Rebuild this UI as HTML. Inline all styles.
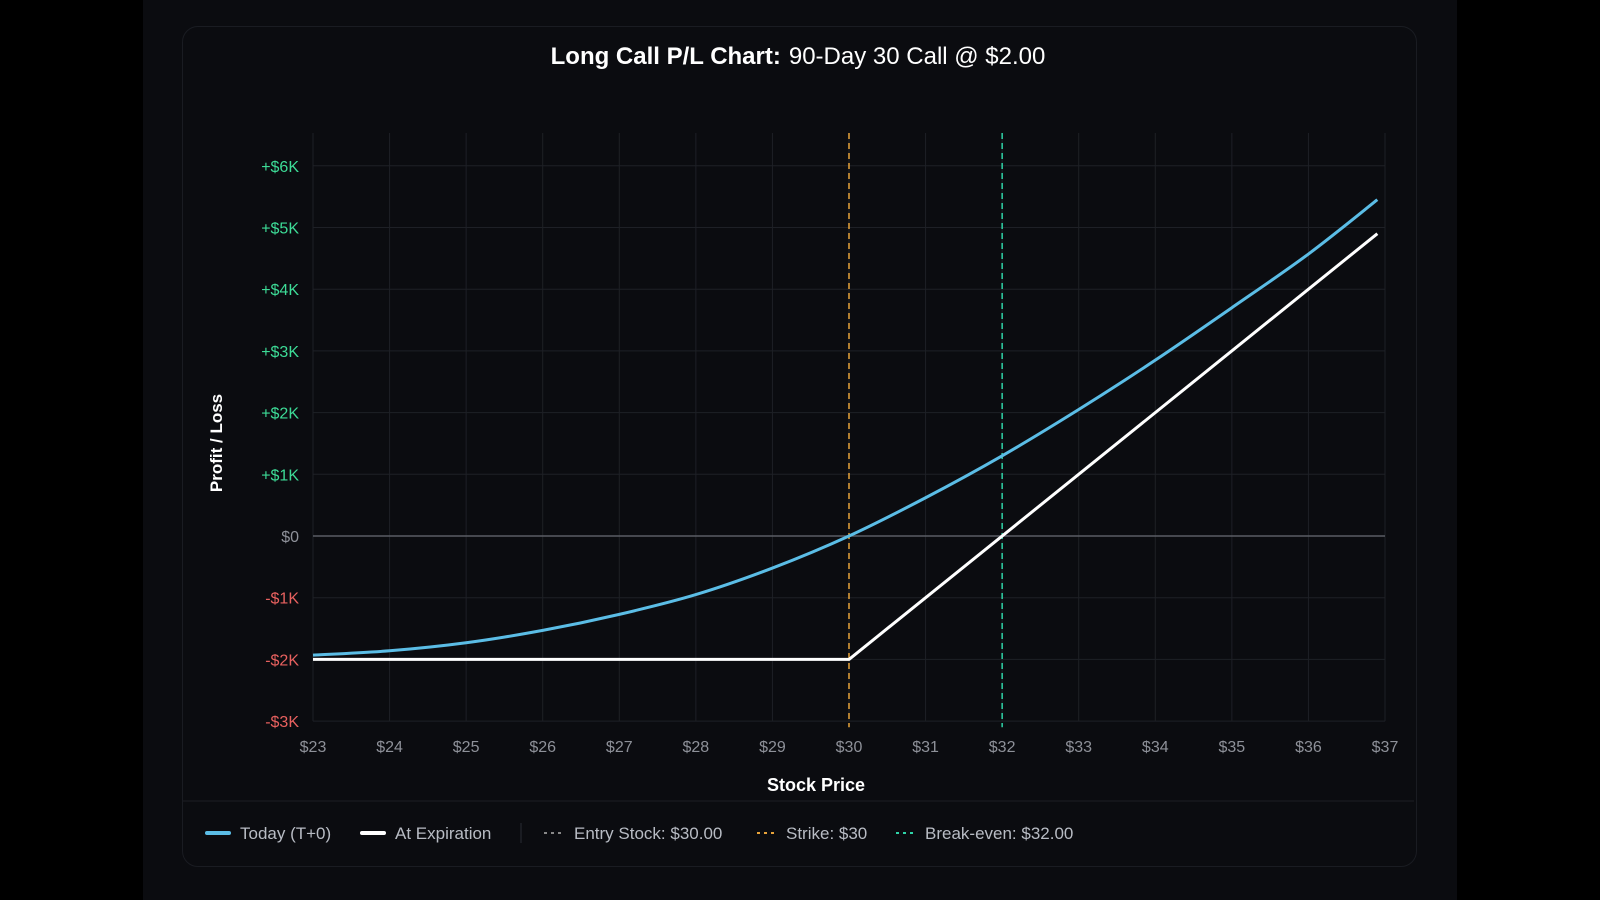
<!DOCTYPE html>
<html><head><meta charset="utf-8"><style>
html,body{margin:0;padding:0;background:#000;width:1600px;height:900px;overflow:hidden;font-family:"Liberation Sans",sans-serif}
#outer{position:absolute;left:143px;top:0;width:1314px;height:900px;background:#0b0c10}
#card{position:absolute;left:182px;top:26px;width:1233px;height:839px;border:1px solid #1a1c22;border-radius:16px;background:#0b0c10}
</style></head><body>
<div id="outer"></div>
<div id="card"></div>
<svg id="chart" width="1600" height="900" style="position:absolute;left:0;top:0">
<text x="798" y="64" text-anchor="middle" font-size="24" fill="#fff"><tspan font-weight="bold">Long Call P/L Chart:</tspan><tspan dx="8">90-Day 30 Call @ $2.00</tspan></text>
<g id="grid"></g><g id="lines"></g><g id="labels"></g>
<text transform="translate(222,443) rotate(-90)" text-anchor="middle" font-size="17" font-weight="bold" fill="#fff">Profit / Loss</text>
<text x="816" y="791" text-anchor="middle" font-size="18" font-weight="bold" fill="#fff">Stock Price</text>
<line x1="183" y1="801" x2="1414" y2="801" stroke="#1c1e24"/>
<g font-size="17" fill="#b8bcc4">
<g><line x1="207" y1="833" x2="229" y2="833" stroke="#5bbde6" stroke-width="4" stroke-linecap="round"/><text x="240" y="839">Today (T+0)</text></g>
<g><line x1="362" y1="833" x2="384" y2="833" stroke="#fff" stroke-width="4" stroke-linecap="round"/><text x="395" y="839">At Expiration</text></g>
<line x1="521" y1="823" x2="521" y2="843" stroke="#2a2d34"/>
<g><line x1="544" y1="833" x2="564" y2="833" stroke="#888" stroke-width="2" stroke-dasharray="3,4"/><text x="574" y="839">Entry Stock: $30.00</text></g>
<g><line x1="757" y1="833" x2="777" y2="833" stroke="#e8a33a" stroke-width="2" stroke-dasharray="3,4"/><text x="786" y="839">Strike: $30</text></g>
<g><line x1="896" y1="833" x2="916" y2="833" stroke="#2fd4a8" stroke-width="2" stroke-dasharray="3,4"/><text x="925" y="839">Break-even: $32.00</text></g>
</g>
</svg>
<script>
const xTicks=[23,24,25,26,27,28,29,30,31,32,33,34,35,36,37];
const yTicks=[-3,-2,-1,0,1,2,3,4,5,6];
const yTickLabels=["-$3K","-$2K","-$1K","$0","+$1K","+$2K","+$3K","+$4K","+$5K","+$6K"];
const todayPrices=[23,24,25,26,27,28,29,30,31,32,33,34,35,36,36.9];
const todayPL=[-1.93,-1.86,-1.73,-1.53,-1.27,-0.95,-0.52,0,0.62,1.3,2.05,2.85,3.7,4.57,5.45];
const expiryPrices=[23,30,36.9];
const expiryPL=[-2,-2,4.9];
const strike=30, breakeven=32;
const NS="http://www.w3.org/2000/svg";
const X=v=>313+(v-23)*(1385-313)/14;
const Y=v=>536-v*61.7;
function mk(t,a,p){const e=document.createElementNS(NS,t);for(const k in a)e.setAttribute(k,a[k]);(p||document.getElementById('chart')).appendChild(e);return e;}
const grid=document.getElementById('grid'),lines=document.getElementById('lines'),labels=document.getElementById('labels');
xTicks.forEach(v=>{
 const l=mk('line',{x1:X(v),x2:X(v),y1:133,y2:Y(-3),stroke:'#1e2026','stroke-width':1},grid);
 
 
 const t=mk('text',{x:X(v),y:752,'text-anchor':'middle','font-size':16,fill:'#8e9199'},labels);
 t.textContent='$'+v;
 
 
});
yTicks.forEach((v,i)=>{
 const l=mk('line',{x1:313,x2:1385,y1:Y(v),y2:Y(v),stroke:v===0?'#5a5d64':'#1e2026','stroke-width':v===0?1.5:1},grid);
 
 
 const t=mk('text',{x:299,y:Y(v)+6,'text-anchor':'end','font-size':16,fill:v>0?'#3ddc97':(v<0?'#e8615f':'#8e9199')},labels);
 t.textContent=yTickLabels[i];
 
 
});
const s=mk('line',{x1:X(strike),x2:X(strike),y1:133,y2:Y(-3.1),stroke:'#e8a33a','stroke-width':1.5,'stroke-dasharray':'6,4'},lines);


const b=mk('line',{x1:X(breakeven),x2:X(breakeven),y1:133,y2:Y(-3.1),stroke:'#2fd4a8','stroke-width':1.5,'stroke-dasharray':'6,4'},lines);


function smooth(xs,ys){const p=xs.map((x,i)=>[X(x),Y(ys[i])]);let d='M'+p[0];
 for(let i=0;i<p.length-1;i++){const p0=p[i-1]||p[i],p1=p[i],p2=p[i+1],p3=p[i+2]||p2;
 d+=' C'+(p1[0]+(p2[0]-p0[0])/6)+','+(p1[1]+(p2[1]-p0[1])/6)+' '+(p2[0]-(p3[0]-p1[0])/6)+','+(p2[1]-(p3[1]-p1[1])/6)+' '+p2;}return d;}
const e=mk('path',{d:'M'+expiryPrices.map((x,i)=>X(x)+','+Y(expiryPL[i])).join(' L'),fill:'none',stroke:'#fff','stroke-width':3,'stroke-linejoin':'round'},lines);


const t=mk('path',{d:smooth(todayPrices,todayPL),fill:'none',stroke:'#5bbde6','stroke-width':3},lines);


</script>
</body></html>
